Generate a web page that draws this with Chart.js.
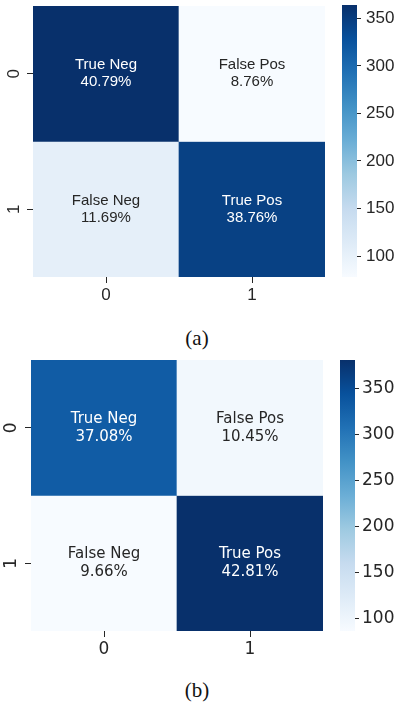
<!DOCTYPE html>
<html>
<head>
<meta charset="utf-8">
<script src="https://cdn.jsdelivr.net/npm/chart.js@4.4.1/dist/chart.umd.min.js"></script>
<style>
    body { margin: 0; background: #fff; }
    #wrap { position: relative; width: 397px; height: 702px; }
    #wrap canvas { position: absolute; }
    .caption { position: absolute; left: 0; width: 394px; text-align: center;
        font-family: "Liberation Serif", "Times New Roman", serif; font-size: 21px; color: #111; }
</style>
</head>
<body>
<div id="wrap">
    <canvas id="heatA" width="330" height="310" style="left:0;top:0"></canvas>
    <canvas id="barA" width="67" height="285" style="left:330px;top:0"></canvas>
    <div class="caption" style="top:326px">(a)</div>
    <canvas id="heatB" width="330" height="310" style="left:0;top:354px"></canvas>
    <canvas id="barB" width="67" height="285" style="left:330px;top:354px"></canvas>
    <div class="caption" style="top:678px">(b)</div>
</div>
<script>
var classLabels = ["0", "1"];
var cellNames = [["True Neg", "False Pos"], ["False Neg", "True Pos"]];

// panel (a)
var countsA = [[364, 78], [104, 346]];
var percentsA = [[40.79, 8.76], [11.69, 38.76]];
// panel (b)
var countsB = [[331, 93], [86, 381]];
var percentsB = [[37.08, 10.45], [9.66, 42.81]];

var colorbarTicks = [100, 150, 200, 250, 300, 350];

// matplotlib "Blues"
var blues = ["#f7fbff", "#deebf7", "#c6dbef", "#9ecae1", "#6baed6", "#4292c6", "#2171b5", "#08519c", "#08306b"];
var darkText = "#262626";

function hexToRgb(h) {
    return [parseInt(h.substr(1, 2), 16), parseInt(h.substr(3, 2), 16), parseInt(h.substr(5, 2), 16)];
}

function bluesAt(t) {
    t = Math.max(0, Math.min(1, t));
    var p = t * (blues.length - 1);
    var i = Math.min(Math.floor(p), blues.length - 2);
    var f = p - i;
    var a = hexToRgb(blues[i]), b = hexToRgb(blues[i + 1]);
    var c = a.map(function(v, k) { return Math.round(v + (b[k] - v) * f); });
    return "rgb(" + c.join(",") + ")";
}

// same rule seaborn uses to pick annotation colour
function textColorFor(rgbStr) {
    var c = rgbStr.match(/\d+/g).map(function(v) {
        v = v / 255;
        return v <= 0.03928 ? v / 12.92 : Math.pow((v + 0.055) / 1.055, 2.4);
    });
    var lum = 0.2126 * c[0] + 0.7152 * c[1] + 0.0722 * c[2];
    return lum > 0.408 ? darkText : "#ffffff";
}

function noPadding(scale) {
    scale.paddingTop = 0;
    scale.paddingBottom = 0;
    scale.paddingLeft = 0;
    scale.paddingRight = 0;
}

var cellTextPlugin = {
    id: "cellText",
    afterDatasetsDraw: function(chart, args, opts) {
        var ctx = chart.ctx;
        ctx.save();
        ctx.font = opts.size + "px " + opts.family;
        ctx.textAlign = "center";
        ctx.textBaseline = "middle";
        chart.data.datasets.forEach(function(ds, row) {
            chart.getDatasetMeta(row).data.forEach(function(bar, col) {
                var p = bar.getProps(["x", "y", "base"], true);
                var cy = (p.y + p.base) / 2;
                ctx.fillStyle = textColorFor(ds.backgroundColor[col]);
                ctx.fillText(opts.names[row][col], p.x, cy - opts.lineGap / 2);
                ctx.fillText(opts.percents[row][col].toFixed(2) + "%", p.x, cy + opts.lineGap / 2);
            });
        });
        ctx.restore();
    }
};

function makePanel(heatId, barId, counts, percents, look) {
    var flat = counts[0].concat(counts[1]);
    var vmin = Math.min.apply(null, flat);
    var vmax = Math.max.apply(null, flat);
    var tickFont = { family: look.family, size: look.tickSize };

    var datasets = counts.map(function(row, r) {
        return {
            data: classLabels.map(function() { return [r, r + 1]; }),
            backgroundColor: row.map(function(v) { return bluesAt((v - vmin) / (vmax - vmin)); }),
            borderWidth: 0,
            grouped: false,
            barPercentage: 1,
            categoryPercentage: 1
        };
    });

    new Chart(document.getElementById(heatId), {
        type: "bar",
        data: { labels: classLabels, datasets: datasets },
        plugins: [cellTextPlugin],
        options: {
            responsive: false,
            animation: false,
            devicePixelRatio: 1,
            layout: { padding: { top: 6, right: look.heatRight, left: 0, bottom: 0 } },
            plugins: {
                legend: { display: false },
                tooltip: { enabled: false },
                cellText: { names: cellNames, percents: percents, family: look.family, size: 15, lineGap: look.lineGap }
            },
            scales: {
                x: {
                    grid: { offset: false, drawOnChartArea: false, tickLength: 6, color: darkText },
                    border: { display: false },
                    ticks: { color: darkText, font: tickFont, padding: 2 },
                    afterFit: function(scale) { scale.height = 33; noPadding(scale); }
                },
                y: {
                    min: 0,
                    max: 2,
                    reverse: true,
                    grid: { drawOnChartArea: false, tickLength: 6, color: darkText },
                    border: { display: false },
                    ticks: {
                        color: darkText, font: tickFont, padding: 8,
                        minRotation: 90, maxRotation: 90, crossAlign: "center",
                        callback: function(v, i) { return classLabels[i]; }
                    },
                    afterBuildTicks: function(scale) {
                        scale.ticks = classLabels.map(function(l, i) { return { value: i + 0.5 }; });
                    },
                    afterFit: function(scale) { scale.width = look.heatLeft; noPadding(scale); }
                }
            }
        }
    });

    new Chart(document.getElementById(barId), {
        type: "bar",
        data: {
            labels: [""],
            datasets: [{
                data: [[vmin, vmax]],
                borderWidth: 0,
                barPercentage: 1,
                categoryPercentage: 1,
                backgroundColor: function(c) {
                    var chart = c.chart;
                    if (!chart.chartArea) return blues[0];
                    var y = chart.scales.y;
                    var g = chart.ctx.createLinearGradient(0, y.getPixelForValue(vmin), 0, y.getPixelForValue(vmax));
                    blues.forEach(function(col, i) { g.addColorStop(i / (blues.length - 1), col); });
                    return g;
                }
            }]
        },
        options: {
            responsive: false,
            animation: false,
            devicePixelRatio: 1,
            layout: { padding: { top: look.barTop, bottom: 8, left: look.barLeft, right: 0 } },
            plugins: { legend: { display: false }, tooltip: { enabled: false } },
            scales: {
                x: { display: false },
                y: {
                    position: "right",
                    min: vmin,
                    max: vmax,
                    grid: { drawOnChartArea: false, tickLength: 4, color: darkText },
                    border: { display: false },
                    ticks: { color: darkText, font: tickFont, padding: look.barPad },
                    afterBuildTicks: function(scale) {
                        scale.ticks = colorbarTicks.map(function(v) { return { value: v }; });
                    },
                    afterFit: function(scale) { scale.width = 67 - look.barLeft - 15; noPadding(scale); }
                }
            }
        }
    });
}

makePanel("heatA", "barA", countsA, percentsA, {
    family: "'Liberation Sans', Arial, sans-serif", tickSize: 17, lineGap: 17,
    heatLeft: 33, heatRight: 5, barLeft: 12, barTop: 5, barPad: 5
});
makePanel("heatB", "barB", countsB, percentsB, {
    family: "'DejaVu Sans', sans-serif", tickSize: 17, lineGap: 18,
    heatLeft: 31, heatRight: 7, barLeft: 10, barTop: 6, barPad: 3
});
</script>
</body>
</html>
